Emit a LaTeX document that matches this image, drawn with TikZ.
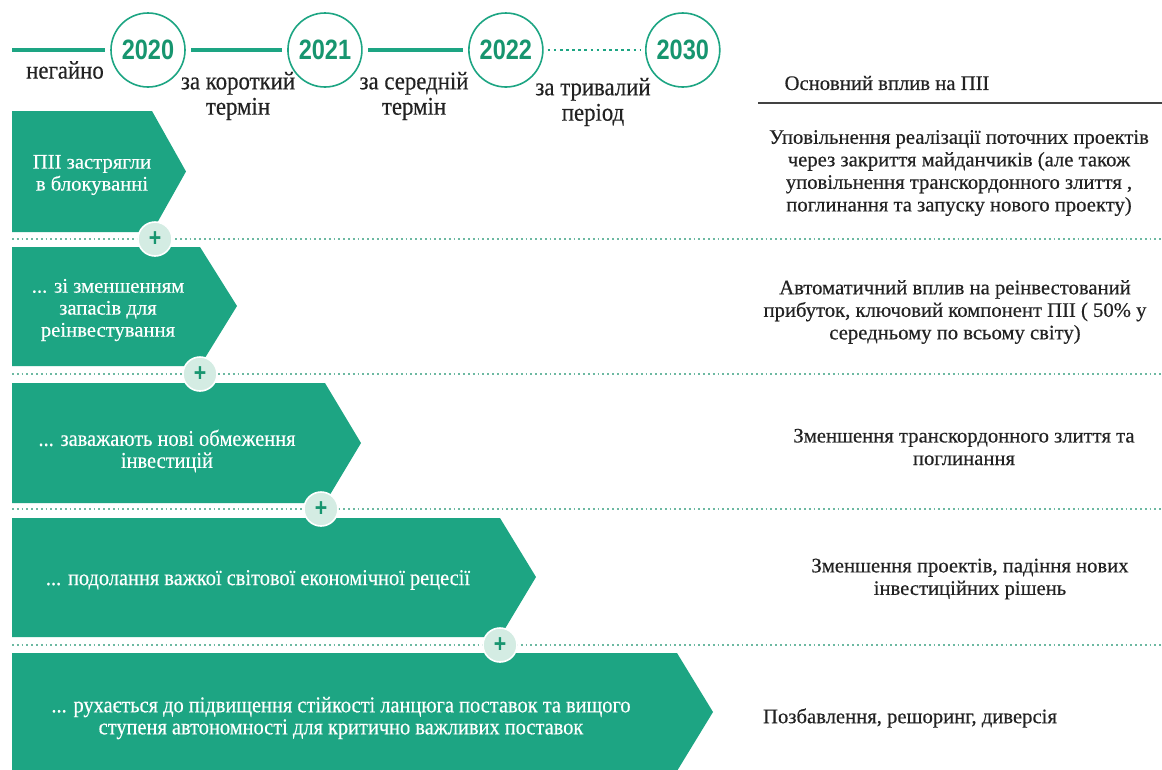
\documentclass[tikz,border=0pt]{standalone}
\usepackage{fontspec}
\setmainfont{Liberation Serif}
\newfontfamily\yearfont[FakeStretch=0.84]{Liberation Sans}
\newfontfamily\heavyserif[FakeBold=0.35]{Liberation Serif}
\newfontfamily\narrowserif[FakeStretch=0.9,FakeBold=0.35]{Liberation Serif}
\usepackage{xcolor}
\usepackage{tikz}
\usetikzlibrary{positioning}
\definecolor{FdiTeal}{HTML}{1DA583}
\definecolor{FdiDark}{HTML}{17956F}
\definecolor{FdiMint}{HTML}{D4ECE3}
\definecolor{FdiDots}{HTML}{6DB9A2}
\definecolor{FdiText}{HTML}{222222}

\begin{document}
\begin{tikzpicture}[x=0.75pt, y=-0.75pt, every node/.style={text=FdiText},
    year/.style={circle,draw=FdiTeal,line width=1.2pt,fill=white,minimum size=55.5pt,inner sep=0pt,text=FdiDark,font=\yearfont\bfseries\fontsize{21}{21}\selectfont},
    period/.style={align=center,font=\narrowserif\fontsize{19}{19}\selectfont},
    tline/.style={FdiTeal,line width=2.4pt,shorten <=4pt,shorten >=4pt},
    chev/.style={fill=FdiTeal},
    chevtext/.style={text=white,align=center,font=\heavyserif\fontsize{15.5}{16.5}\selectfont},
    chevnarrow/.style={chevtext,font=\narrowserif\fontsize{17}{16.5}\selectfont},
    plus/.style={circle,fill=FdiMint,draw=white,line width=1.2pt,minimum size=25.5pt,inner sep=0pt,text=FdiDark,font=\yearfont\bfseries\fontsize{19}{19}\selectfont},
    sepline/.style={FdiDots,line width=1.5pt,dash pattern=on 1.4pt off 2.2pt},
    impact/.style={align=center,font=\heavyserif\fontsize{15.5}{16.9}\selectfont}]
  \fill[white] (0,0) rectangle (1162,769);
  \useasboundingbox (0,0) rectangle (1162,769);

  \node[year] (y20) at (148,50) {2020};
  \node[year,right=76pt of y20] (y21) {2021};
  \node[year,right=79pt of y21] (y22) {2022};
  \node[year,right=76pt of y22] (y30) {2030};
  \coordinate (t0) at (12,50);
  \draw[tline,shorten <=0pt] (t0) -- (y20);
  \draw[tline] (y20) -- (y21);
  \draw[tline] (y21) -- (y22);
  \draw[tline,line width=2.2pt,dash pattern=on 2pt off 2.6pt,shorten <=3pt,shorten >=3pt] (y22) -- (y30);
  \node[period] (now) at (65,70) {негайно};
  \node[period] (short) at (238,96) {за короткий\\термін};
  \node[period] (mid) at (414,96) {за середній\\термін};
  \node[period] (long) at (593,102) {за тривалий\\період};

  \node[font=\heavyserif\fontsize{15.5}{16}\selectfont] (head) at (887,83) {Основний вплив на ПІІ};
  \coordinate (hl) at (758,103);
  \coordinate (hr) at (1162,103);
  \draw[FdiText!85,line width=1.2pt] (hl) -- (hr);

  \fill[chev] (12,111) -- (152,111) -- (186,171.5) -- (152,232) -- (12,232) -- cycle;
  \fill[chev] (12,247) -- (200,247) -- (237,306) -- (200,366) -- (12,366) -- cycle;
  \fill[chev] (12,383) -- (325,383) -- (361,443) -- (325,503) -- (12,503) -- cycle;
  \fill[chev] (12,518) -- (500,518) -- (536,577) -- (500,637) -- (12,637) -- cycle;
  \fill[chev] (12,653) -- (677,653) -- (713,712) -- (677,771) -- (12,771) -- cycle;

  \node[chevtext] (c1) at (92,175) {ПІІ застрягли\\в блокуванні};
  \node[chevtext] (c2) at (108,310) {... зі зменшенням\\запасів для\\реінвестування};
  \node[chevnarrow] (c3) at (167,451) {... заважають нові обмеження\\інвестицій};
  \node[chevnarrow] (c4) at (258,580) {... подолання важкої світової економічної рецесії};
  \node[chevnarrow] (c5) at (341,718) {... рухається до підвищення стійкості ланцюга поставок та вищого\\ступеня автономності для критично важливих поставок};

  \coordinate (s1l) at (12,239);  \coordinate (s1r) at (1162,239);
  \coordinate (s2l) at (12,374);  \coordinate (s2r) at (1162,374);
  \coordinate (s3l) at (12,509);  \coordinate (s3r) at (1162,509);
  \coordinate (s4l) at (12,645);  \coordinate (s4r) at (1162,645);
  \draw[sepline] (s1l) -- (s1r);
  \draw[sepline] (s2l) -- (s2r);
  \draw[sepline] (s3l) -- (s3r);
  \draw[sepline] (s4l) -- (s4r);
  \node[plus] (p1) at (155,239) {+};
  \node[plus] (p2) at (200,374) {+};
  \node[plus] (p3) at (321,509) {+};
  \node[plus] (p4) at (500,645) {+};

  \node[impact] (i1) at (959,173) {Уповільнення реалізації поточних проектів\\через закриття майданчиків (але також\\уповільнення транскордонного злиття ,\\поглинання та запуску нового проекту)};
  \node[impact] (i2) at (955,312) {Автоматичний вплив на реінвестований\\прибуток, ключовий компонент ПІІ ( 50\% у\\середньому по всьому світу)};
  \node[impact] (i3) at (964,447) {Зменшення транскордонного злиття та\\поглинання};
  \node[impact] (i4) at (970,579) {Зменшення проектів, падіння нових\\інвестиційних рішень};
  \node[impact] (i5) at (910,718) {Позбавлення, решоринг, диверсія};
\end{tikzpicture}
\end{document}
